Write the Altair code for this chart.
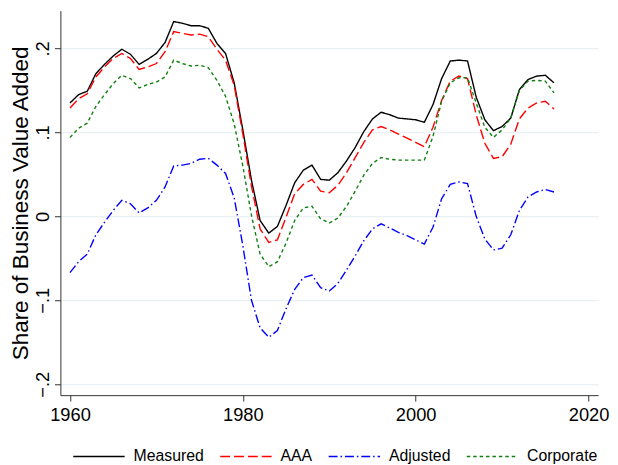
import altair as alt
import pandas as pd

years = list(range(1960, 2017))

measured = [0.135, 0.145, 0.149, 0.170, 0.181, 0.191, 0.199, 0.193, 0.181, 0.187,
            0.194, 0.207, 0.232, 0.230, 0.227, 0.227, 0.224, 0.206, 0.194, 0.159,
            0.103, 0.043, -0.005, -0.020, -0.012, 0.013, 0.040, 0.055, 0.061, 0.044,
            0.043, 0.052, 0.066, 0.082, 0.101, 0.116, 0.124, 0.121, 0.117, 0.116,
            0.115, 0.112, 0.133, 0.164, 0.185, 0.186, 0.185, 0.142, 0.115, 0.102,
            0.107, 0.117, 0.151, 0.163, 0.167, 0.168, 0.159]

aaa = [0.129, 0.140, 0.146, 0.166, 0.178, 0.188, 0.194, 0.188, 0.175, 0.178,
       0.182, 0.196, 0.220, 0.218, 0.216, 0.217, 0.214, 0.199, 0.186, 0.156,
       0.098, 0.036, -0.015, -0.031, -0.028, -0.001, 0.027, 0.038, 0.044, 0.030,
       0.028, 0.037, 0.052, 0.070, 0.088, 0.103, 0.107, 0.103, 0.098, 0.093,
       0.088, 0.083, 0.106, 0.138, 0.161, 0.167, 0.164, 0.121, 0.087, 0.069,
       0.071, 0.086, 0.116, 0.129, 0.135, 0.137, 0.128]

adjusted = [-0.067, -0.054, -0.045, -0.022, -0.007, 0.007, 0.019, 0.015, 0.004, 0.010,
            0.019, 0.035, 0.060, 0.061, 0.063, 0.068, 0.069, 0.061, 0.051, 0.022,
            -0.035, -0.100, -0.133, -0.144, -0.136, -0.110, -0.087, -0.073, -0.070, -0.085,
            -0.089, -0.080, -0.064, -0.047, -0.029, -0.015, -0.009, -0.014, -0.019, -0.023,
            -0.028, -0.033, -0.013, 0.021, 0.038, 0.041, 0.039, 0.000, -0.027, -0.040,
            -0.038, -0.022, 0.007, 0.023, 0.029, 0.032, 0.029]

corporate = [0.094, 0.105, 0.111, 0.131, 0.145, 0.158, 0.168, 0.164, 0.153, 0.157,
             0.160, 0.166, 0.186, 0.182, 0.179, 0.180, 0.177, 0.162, 0.143, 0.110,
             0.060, 0.001, -0.045, -0.060, -0.054, -0.032, -0.005, 0.010, 0.012, -0.003,
             -0.008, -0.002, 0.012, 0.030, 0.049, 0.063, 0.070, 0.068, 0.067, 0.067,
             0.067, 0.067, 0.095, 0.137, 0.159, 0.165, 0.165, 0.135, 0.106, 0.094,
             0.103, 0.117, 0.150, 0.161, 0.162, 0.161, 0.147]

series_names = ["Measured", "AAA", "Adjusted", "Corporate"]
series_colors = ["#000000", "#ff0000", "#0000ff", "#108010"]
series_dashes = [[1, 0], [10, 4], [9, 3, 1.5, 3], [3.5, 3]]
x_ticks = [1960, 1980, 2000, 2020]
y_ticks = [-0.2, -0.1, 0, 0.1, 0.2]

rows = []
for name, vals in zip(series_names, [measured, aaa, adjusted, corporate]):
    for yr, v in zip(years, vals):
        rows.append({"year": yr, "value": v, "series": name})
df = pd.DataFrame(rows)

FONT = "Liberation Sans"

legend = alt.Legend(
    orient="none", legendX=12, legendY=424, direction="horizontal", columns=4,
    symbolType="stroke", symbolSize=2704, symbolStrokeWidth=1.4,
    labelFontSize=16, labelFont=FONT, labelColor="#000000", labelOffset=8,
    columnPadding=12.7, padding=0,
)

chart = alt.Chart(df).mark_line(strokeWidth=1.4).encode(
    x=alt.X("year:Q", scale=alt.Scale(domain=[1958.89, 2021.11], nice=False, zero=False),
            axis=alt.Axis(values=x_ticks, format="d", title=None, grid=False,
                          tickSize=6, labelPadding=20, labelBaseline="alphabetic",
                          labelFontSize=18.5, labelFont=FONT, labelColor="#000000",
                          domainColor="#333333", tickColor="#333333")),
    y=alt.Y("value:Q", scale=alt.Scale(domain=[-0.213, 0.245], nice=False, zero=False),
            axis=alt.Axis(values=y_ticks, title="Share of Business Value Added",
                          labelExpr="datum.value == 0 ? '0' : (datum.value < 0 ? '\u2212' : '') + '.' + format(abs(datum.value) * 10, '.0f')",
                          labelAngle=-90, labelAlign="center", labelBaseline="alphabetic",
                          tickSize=6, labelPadding=6, labelFontSize=18.5, labelFont=FONT,
                          labelColor="#000000", domainColor="#333333", tickColor="#333333",
                          grid=True, gridColor="#e4edf0", gridWidth=1,
                          titleFont=FONT, titleFontSize=22.7, titleFontWeight="normal",
                          titleColor="#000000", titleAngle=-90, titleX=-33, titleY=194.5,
                          titleAlign="center", titleBaseline="alphabetic")),
    color=alt.Color("series:N", title=None,
                    scale=alt.Scale(domain=series_names, range=series_colors),
                    legend=legend),
    strokeDash=alt.StrokeDash("series:N", title=None,
                              scale=alt.Scale(domain=series_names, range=series_dashes),
                              legend=legend),
    order=alt.Order("year:Q"),
).properties(
    width=544, height=389,
    autosize=alt.AutoSizeParams(type="none"),
    padding={"left": 53, "top": 0, "right": 12, "bottom": 68},
).configure(background="#ffffff").configure_view(stroke=None)

chart.save("out.html", embed_options={"renderer": "svg", "actions": False})
